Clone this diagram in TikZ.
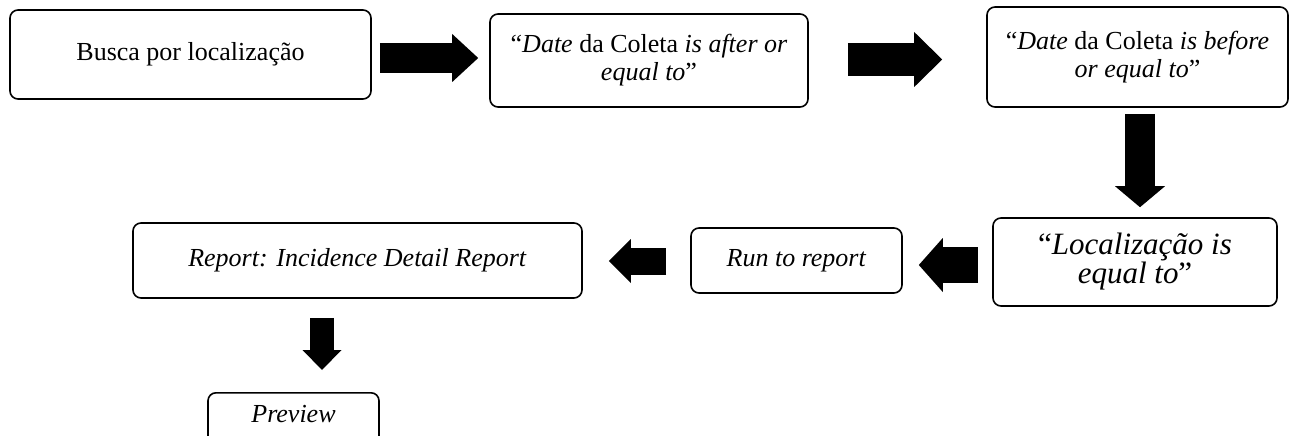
\documentclass[tikz,border=0pt]{standalone}
\usepackage{fontspec}
\setmainfont{Liberation Serif}
\usetikzlibrary{arrows.meta}
\begin{document}
\begin{tikzpicture}[x=1pt,y=-1pt,
  box/.style={draw, line width=1.6pt, rounded corners=8pt, inner sep=0pt, align=center,
    font=\fontsize{26}{28}\selectfont},
  blockarrow/.style args={#1/#2/#3}{line width=#1, line cap=butt,
    -{Triangle[width=#2, length=#3, line width=0pt]}}
]
\useasboundingbox (0,0) rectangle (1291,436);

\node[box, minimum width=361, minimum height=89] (b1) at (190.5,54.5) {Busca por localização};
\node[box, minimum width=318, minimum height=93] (b2) at (649,60.5)
  {“\textit{Date} da Coleta \textit{is after or}\\\textit{equal to}”};
\node[box, minimum width=301, minimum height=100] (b3) at (1137.5,57)
  {“\textit{Date} da Coleta \textit{is before}\\\textit{or equal to}”};
\node[box, minimum width=284, minimum height=88, font=\fontsize{31}{27}\selectfont] (b4) at (1135,262)
  {“\textit{Localização is}\\\textit{equal to}”};
\node[box, minimum width=211, minimum height=65] (b5) at (796.5,260.5) {\textit{Run to report}};
\node[box, minimum width=449, minimum height=75] (b6) at (357.5,260.5) {\textit{Report: Incidence Detail Report}};
\node[box, minimum width=171, text height=30pt, text depth=30pt, anchor=north] (b7) at (293.5,392) {\textit{Preview}};

\draw[blockarrow=30pt/48pt/26pt, shorten <=8pt, shorten >=11pt] (b1.east |- 0,58) -- (b2.west |- 0,58);
\draw[blockarrow=33pt/55pt/28pt, shorten <=39pt, shorten >=44pt] (b2.east |- 0,59.5) -- (b3.west |- 0,59.5);
\draw[blockarrow=30pt/50pt/21pt, shorten <=6pt, shorten >=10pt] (b3.south -| 1140,0) -- (b4.north -| 1140,0);
\draw[blockarrow=36pt/54pt/24pt, shorten <=14pt, shorten >=16pt] (b4.west |- 0,265) -- (b5.east |- 0,265);
\draw[blockarrow=27pt/44pt/22pt, shorten <=24pt, shorten >=26pt] (b5.west |- 0,261) -- (b6.east |- 0,261);
\draw[blockarrow=24pt/39pt/20pt, shorten <=19pt, shorten >=22pt] (b6.south -| 322,0) -- (b7.north -| 322,0);
\end{tikzpicture}
\end{document}
